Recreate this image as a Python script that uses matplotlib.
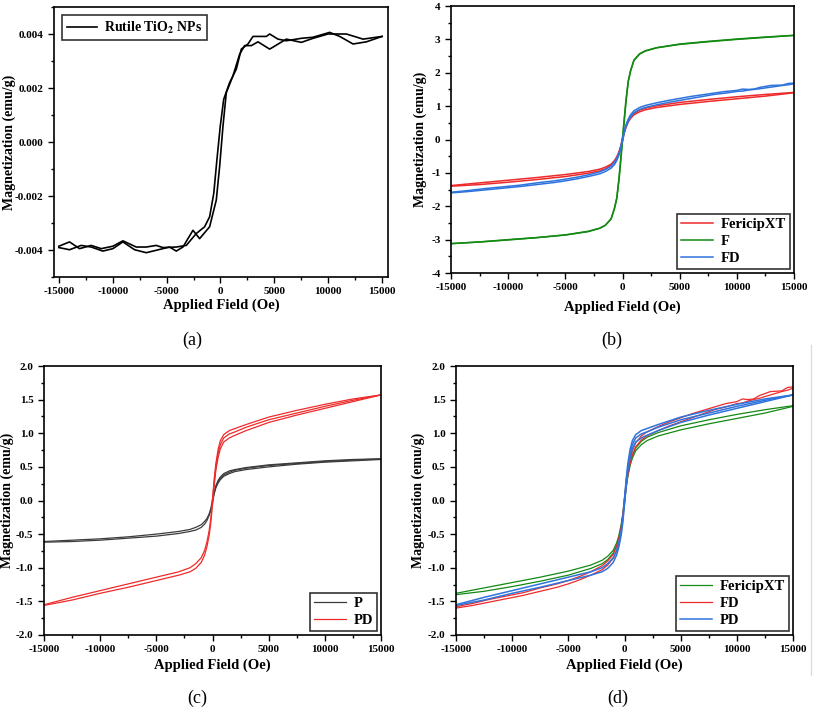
import numpy as np
import matplotlib
matplotlib.use('Agg')
import matplotlib.pyplot as plt
from matplotlib.ticker import MultipleLocator, FormatStrFormatter
from matplotlib.lines import Line2D

plt.rcParams['font.family'] = ['Liberation Serif', 'DejaVu Serif']
plt.rcParams['font.weight'] = 'bold'
plt.rcParams['mathtext.fontset'] = 'stix'
plt.rcParams['axes.unicode_minus'] = False

# ---- (a) rutile TiO2 loop, two noisy branches ----
TIO2_H_A = [-15000, -14009, -13080, -12000, -11068, -9985, -9056, -7817, -6889, -5960,
            -5341, -4102, -3173, -2245, -1471, -1006, -620, -330, -20, 300,
            851, 1471, 1935, 2554, 3019, 4257, 4567, 5341, 6115, 7508,
            8591, 10139, 11068, 12307, 13545, 15000]
TIO2_M_A = [-0.00386, -0.00370, -0.00395, -0.00383, -0.00395, -0.00386, -0.00366, -0.00389, -0.00389, -0.00383,
            -0.00391, -0.00389, -0.00383, -0.00339, -0.00314, -0.00277, -0.00190, -0.00066, 0.00058, 0.00158,
            0.00220, 0.00270, 0.00344, 0.00363, 0.00391, 0.00391, 0.00400, 0.00381, 0.00375, 0.00384,
            0.00388, 0.00406, 0.00391, 0.00363, 0.00371, 0.00391]
TIO2_H_B = [-15000, -14009, -12926, -12000, -10913, -9985, -9056, -7972, -6889, -5960,
            -4721, -4102, -3483, -2554, -1935, -1006, -387, -77, 232, 542,
            1161, 1780, 2245, 2864, 3483, 4567, 6115, 7508, 8591, 9985,
            11687, 13235, 15000]
TIO2_M_B = [-0.00391, -0.00399, -0.00383, -0.00389, -0.00404, -0.00395, -0.00370, -0.00399, -0.00410, -0.00401,
            -0.00389, -0.00404, -0.00389, -0.00327, -0.00358, -0.00314, -0.00215, -0.00091, 0.00058, 0.00183,
            0.00245, 0.00325, 0.00357, 0.00357, 0.00371, 0.00344, 0.00381, 0.00369, 0.00384, 0.00400,
            0.00400, 0.00381, 0.00391]

# ---- common field grid for the smooth loops (Oe) ----
H_GRID = [-15000, -12500, -10000, -7500, -5000, -3000, -2000, -1500, -1000, -700,
          -500, -300, -150, 0, 150, 300, 500, 700, 1000, 1500,
          2000, 3000, 5000, 7500, 10000, 12500, 15000]
H_VIRGIN = [0, 150, 300, 500, 700, 1000, 1500, 2000, 3000, 5000, 7500, 10000, 12500, 15000]

# FericipXT
FXT_DESC = [-1.38, -1.30, -1.22, -1.14, -1.05, -0.96, -0.89, -0.83, -0.74, -0.63,
            -0.52, -0.36, -0.19, 0.04, 0.22, 0.39, 0.55, 0.67, 0.78, 0.88,
            0.94, 1.01, 1.11, 1.20, 1.28, 1.35, 1.41]
FXT_ASC = [-1.40, -1.35, -1.28, -1.20, -1.11, -1.01, -0.94, -0.88, -0.78, -0.67,
           -0.55, -0.39, -0.22, -0.04, 0.19, 0.36, 0.52, 0.63, 0.74, 0.83,
           0.89, 0.96, 1.05, 1.14, 1.22, 1.30, 1.40]

# F
F_DESC = [-3.12, -3.07, -3.00, -2.94, -2.86, -2.76, -2.66, -2.57, -2.38, -2.05,
          -1.75, -1.12, -0.55, 0.05, 0.62, 1.18, 1.75, 2.06, 2.38, 2.57,
          2.66, 2.75, 2.86, 2.94, 3.01, 3.07, 3.12]
F_ASC = [-3.12, -3.07, -3.01, -2.94, -2.86, -2.75, -2.66, -2.57, -2.38, -2.07,
         -1.77, -1.20, -0.64, -0.05, 0.53, 1.10, 1.72, 2.04, 2.37, 2.56,
         2.65, 2.75, 2.85, 2.93, 3.00, 3.06, 3.12]

# P
P_DESC = [-0.61, -0.59, -0.57, -0.54, -0.50, -0.46, -0.43, -0.40, -0.36, -0.31,
          -0.27, -0.20, -0.12, 0.01, 0.13, 0.22, 0.30, 0.35, 0.40, 0.44,
          0.46, 0.49, 0.53, 0.56, 0.59, 0.61, 0.62]
P_ASC = [-0.62, -0.61, -0.59, -0.56, -0.53, -0.49, -0.46, -0.44, -0.40, -0.35,
         -0.30, -0.22, -0.15, -0.04, 0.10, 0.19, 0.26, 0.31, 0.36, 0.40,
         0.43, 0.46, 0.50, 0.54, 0.57, 0.59, 0.61]
P_VIRGIN = [0.0, 0.12, 0.20, 0.28, 0.33, 0.38, 0.42, 0.45, 0.48, 0.52, 0.55, 0.58, 0.60, 0.62]

# PD
PD_DESC = [-1.55, -1.44, -1.34, -1.24, -1.14, -1.06, -1.00, -0.94, -0.85, -0.74,
           -0.62, -0.45, -0.26, 0.02, 0.32, 0.55, 0.76, 0.89, 0.98, 1.04,
           1.07, 1.13, 1.24, 1.34, 1.43, 1.51, 1.57]
PD_ASC = [-1.56, -1.48, -1.38, -1.29, -1.19, -1.11, -1.06, -1.01, -0.92, -0.81,
          -0.69, -0.52, -0.33, -0.06, 0.22, 0.45, 0.64, 0.77, 0.87, 0.93,
          0.97, 1.04, 1.16, 1.27, 1.37, 1.47, 1.57]
PD_VIRGIN = [0.0, 0.27, 0.50, 0.70, 0.83, 0.93, 0.99, 1.02, 1.09, 1.20, 1.30, 1.40, 1.49, 1.57]

# FD has its own grid (noisy at high field)
FD_H = [-15000, -13500, -12000, -10500, -9000, -7500, -6000, -5000, -4000, -3000,
        -2000, -1500, -1000, -700, -500, -300, -150, 0, 150, 300,
        500, 700, 1000, 1500, 2000, 3000, 4000, 5000, 6000, 7000,
        8000, 9000, 10000, 10500, 11000, 11500, 12000, 13000, 14000, 14500, 15000]
FD_DESC = [-1.58, -1.53, -1.47, -1.42, -1.37, -1.30, -1.24, -1.19, -1.13, -1.06,
           -0.97, -0.90, -0.80, -0.68, -0.56, -0.40, -0.22, 0.03, 0.26, 0.44,
           0.61, 0.74, 0.86, 0.96, 1.02, 1.10, 1.17, 1.23, 1.29, 1.34,
           1.39, 1.44, 1.47, 1.51, 1.50, 1.51, 1.56, 1.62, 1.63, 1.68, 1.69]
FD_ASC = [-1.60, -1.56, -1.51, -1.46, -1.41, -1.35, -1.29, -1.24, -1.18, -1.11,
          -1.03, -0.96, -0.86, -0.75, -0.63, -0.46, -0.27, -0.04, 0.20, 0.38,
          0.55, 0.68, 0.80, 0.90, 0.96, 1.04, 1.11, 1.17, 1.23, 1.29,
          1.35, 1.39, 1.44, 1.45, 1.48, 1.50, 1.52, 1.57, 1.62, 1.64, 1.67]

RED = '#ee2a2a'
GREEN = '#138a13'
BLUE = '#2f74dc'
GREY = '#3c3c3c'

fig = plt.figure(figsize=(8.13, 7.11), dpi=100)
W, H = 813.0, 711.0

def make_ax(x0, y0, x1, y1):
    return fig.add_axes([x0 / W, 1 - y1 / H, (x1 - x0) / W, (y1 - y0) / H])

def style(ax, ymaj, ymin, ylab_x, xlab_y):
    ax.xaxis.set_major_locator(MultipleLocator(5000))
    ax.xaxis.set_minor_locator(MultipleLocator(2500))
    ax.yaxis.set_major_locator(MultipleLocator(ymaj))
    ax.yaxis.set_minor_locator(MultipleLocator(ymin))
    ax.tick_params(which='both', direction='out', top=False, right=False, labelsize=8)
    ax.tick_params(which='major', length=4, width=1)
    ax.tick_params(which='minor', length=2.5, width=1)
    for s in ax.spines.values():
        s.set_linewidth(1.2)
    for lab in ax.get_xticklabels() + ax.get_yticklabels():
        lab.set_fontweight('bold')
    ax.set_xlabel('Applied Field (Oe)', fontsize=10.5, fontweight='bold')
    ax.set_ylabel('Magnetization (emu/g)', fontsize=10, fontweight='bold')
    ax.yaxis.set_label_coords(ylab_x, 0.5)
    ax.xaxis.set_label_coords(0.5, xlab_y)
    ax.xaxis.label.set_va('center')
    ax.yaxis.label.set_va('center')

def loop(ax, h, desc, asc, color, label, lw=0.9):
    ax.plot(h, desc, color=color, lw=lw, label=label)
    ax.plot(h, asc, color=color, lw=lw)

def legend(ax, loc, fs, pad=0.4):
    leg = ax.legend(loc=loc, fontsize=fs, frameon=True, fancybox=False,
                    edgecolor='black', handlelength=2.2, borderpad=0.3,
                    labelspacing=0.25, handletextpad=0.5, borderaxespad=pad)
    leg.get_frame().set_linewidth(1.2)
    for t in leg.get_texts():
        t.set_fontweight('bold')

# (a)
ax = make_ax(54, 7, 388, 277)
ax.plot(TIO2_H_A, TIO2_M_A, color='black', lw=1.2, label=r'Rutile TiO$_\mathbf{2}$ NPs')
ax.plot(TIO2_H_B, TIO2_M_B, color='black', lw=1.2)
ax.set_xlim(-15450, 15550)
ax.set_ylim(-0.005, 0.005)
style(ax, 0.002, 0.001, -0.135, -0.105)
ax.yaxis.set_major_formatter(FormatStrFormatter('%.3f'))
legend(ax, 'upper left', 10, pad=0.6)

# (b)
ax = make_ax(451, 6, 794, 273)
loop(ax, H_GRID, FXT_DESC, FXT_ASC, RED, 'FericipXT', lw=1.1)
loop(ax, H_GRID, F_DESC, F_ASC, GREEN, 'F', lw=1.1)
loop(ax, FD_H, FD_DESC, FD_ASC, BLUE, 'FD', lw=1.1)
ax.set_xlim(-15000, 15000)
ax.set_ylim(-4, 4)
style(ax, 1, 0.5, -0.09, -0.13)
legend(ax, 'lower right', 10.5, pad=0.25)

# (c)
ax = make_ax(44, 366, 381, 635)
loop(ax, H_GRID, P_DESC, P_ASC, GREY, 'P')
ax.plot(H_VIRGIN, P_VIRGIN, color=GREY, lw=0.9)
loop(ax, H_GRID, PD_DESC, PD_ASC, RED, 'PD')
ax.plot(H_VIRGIN, PD_VIRGIN, color=RED, lw=0.9)
ax.set_xlim(-15000, 15000)
ax.set_ylim(-2, 2)
style(ax, 0.5, 0.25, -0.11, -0.112)
ax.yaxis.set_major_formatter(FormatStrFormatter('%.1f'))
legend(ax, 'lower right', 10.5, pad=0.25)

# (d)
ax = make_ax(456, 366, 793, 635)
loop(ax, H_GRID, FXT_DESC, FXT_ASC, GREEN, 'FericipXT')
loop(ax, FD_H, FD_DESC, FD_ASC, RED, 'FD')
loop(ax, H_GRID, PD_DESC, PD_ASC, BLUE, 'PD', lw=1.1)
ax.plot(H_VIRGIN, PD_VIRGIN, color=BLUE, lw=1.1)
ax.set_xlim(-15000, 15000)
ax.set_ylim(-2, 2)
style(ax, 0.5, 0.25, -0.113, -0.112)
ax.yaxis.set_major_formatter(FormatStrFormatter('%.1f'))
legend(ax, 'lower right', 10.5, pad=0.25)

# panel letters
for txt, x, y in [('(a)', 192, 340), ('(b)', 612, 340), ('(c)', 197, 698), ('(d)', 618, 698)]:
    fig.text(x / W, 1 - y / H, txt, ha='center', va='center', fontsize=13, fontweight='normal')

# faint border line at right of panel d
fig.add_artist(Line2D([811 / W, 811 / W], [1 - 345 / H, 1 - 675 / H], color='#dddddd', lw=1))

fig.savefig('out.png', dpi=100)
